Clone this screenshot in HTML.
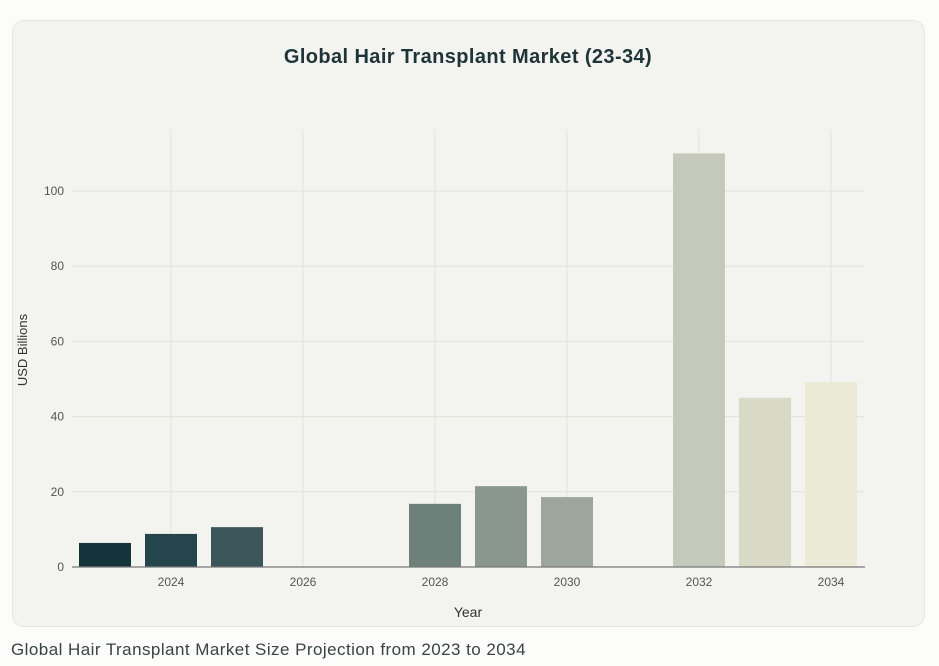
<!DOCTYPE html>
<html><head><meta charset="utf-8"><style>
body{margin:0;width:939px;height:666px;background:#fcfcfa;font-family:"Liberation Sans",sans-serif;overflow:hidden;position:relative}
#card{position:absolute;left:12px;top:20px;width:913px;height:607px;background:#f3f3ef;border-radius:12px;border:1px solid #e6e6e1;box-sizing:border-box}
#cap{position:absolute;left:11px;top:640px;font-size:17px;letter-spacing:0.45px;color:#3a4345}
svg{position:absolute;left:0;top:0}
</style></head><body>
<div id="card"></div>
<svg id="chart" width="939" height="666">
<text x="468" y="63" text-anchor="middle" font-size="20" font-weight="bold" letter-spacing="0.4" fill="#1f3438">Global Hair Transplant Market (23-34)</text>
<text x="468" y="617" text-anchor="middle" font-size="14" fill="#333">Year</text>
<text transform="translate(27,350) rotate(-90)" text-anchor="middle" font-size="13" fill="#333">USD Billions</text>
</svg>
<div id="cap">Global Hair Transplant Market Size Projection from 2023 to 2034</div>
<script>
const years=[2023,2024,2025,2026,2027,2028,2029,2030,2031,2032,2033,2034];
const values=[6.4,8.8,10.6,0,0,16.8,21.5,18.6,0,110,45,49.2];
const colors=['#13343b','#24454c','#3b5558','','','#6e807a','#8a978e','#9da69d','','#c5c9bb','#d8d9c7','#ebead6'];
const yTicks=[0,20,40,60,80,100];
const xTicks=[2024,2026,2028,2030,2032,2034];
const NS='http://www.w3.org/2000/svg',svg=document.getElementById('chart');
const x=y=>105+(y-2023)*66, y=v=>567-v*3.76;
function mk(t,a){const e=document.createElementNS(NS,t);for(const k in a)e.setAttribute(k,a[k]);svg.appendChild(e);return e;}
yTicks.forEach(t=>{if(t>0){const l=mk('line',{x1:72,x2:865,y1:y(t),y2:y(t),stroke:'#e2e2dc','stroke-width':1});

}
const tx=mk('text',{x:64,y:y(t)+4,'text-anchor':'end','font-size':12,fill:'#555'});tx.textContent=t;

});
xTicks.forEach(t=>{const l=mk('line',{x1:x(t),x2:x(t),y1:130,y2:567,stroke:'#e2e2dc','stroke-width':1});


const tx=mk('text',{x:x(t),y:586,'text-anchor':'middle','font-size':12,fill:'#555'});tx.textContent=t;

});
years.forEach((yr,i)=>{if(values[i]<=0)return;const r=mk('rect',{x:x(yr)-26,y:y(values[i]),width:52,height:values[i]*3.76,fill:colors[i]});

});
const ax=mk('line',{x1:72,x2:865,y1:567,y2:567,stroke:'#777','stroke-width':1.2});


</script>
</body></html>
